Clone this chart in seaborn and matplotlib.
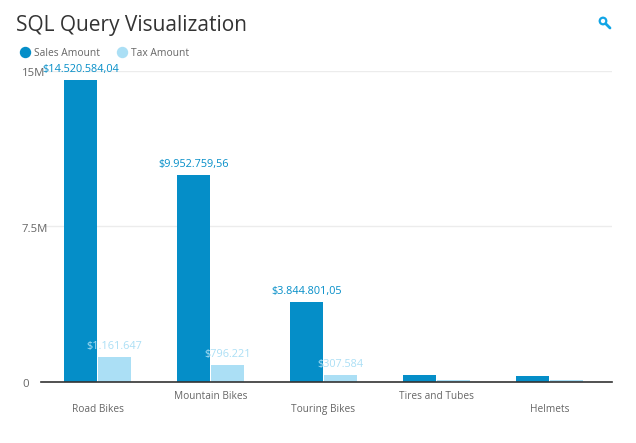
import matplotlib
matplotlib.use("Agg")
import matplotlib.pyplot as plt
from matplotlib.lines import Line2D
from matplotlib.patches import Circle
from matplotlib.transforms import ScaledTranslation
import pandas as pd
import seaborn as sns

categories = ["Road Bikes", "Mountain Bikes", "Touring Bikes", "Tires and Tubes", "Helmets"]
sales_amount = [14520584.04, 9952759.56, 3844801.05, 290000, 260000]
tax_amount = [1161647, 796221, 307584, 50000, 50000]
sales_labels = ["$14.520.584,04", "$9.952.759,56", "$3.844.801,05", "", ""]
tax_labels = ["$1.161.647", "$796.221", "$307.584", "", ""]
y_ticks = [0, 7500000, 15000000]
y_tick_labels = ["0", "7.5M", "15M"]
series_names = ["Sales Amount", "Tax Amount"]
colors = ["#058ec8", "#abdff5"]

df = pd.DataFrame({
    "category": categories * 2,
    "series": [series_names[0]] * 5 + [series_names[1]] * 5,
    "value": sales_amount + tax_amount,
})

sns.set_theme(style="white")
plt.rcParams["font.family"] = ["Open Sans", "DejaVu Sans"]

W, H = 636, 443
fig = plt.figure(figsize=(W / 100, H / 100), dpi=100, facecolor="white")
ax = fig.add_axes([41 / W, (H - 381.5) / H, (612 - 41) / W, 311 / H])

sns.barplot(data=df, x="category", y="value", hue="series", order=categories,
            hue_order=series_names, palette=colors, width=0.6, gap=0.02,
            saturation=1, legend=False, ax=ax, zorder=2, linewidth=0)

ax.set_xlim(-0.5, (612 - 41) / 113 - 0.5)
ax.set_ylim(0, 15000000)
ax.set_xlabel("")
ax.set_ylabel("")
for s in ("top", "right", "left"):
    ax.spines[s].set_visible(False)
ax.spines["bottom"].set_color("#333333")
ax.spines["bottom"].set_linewidth(1.2)
ax.yaxis.grid(True, color="#ececec", linewidth=1, zorder=0)
ax.set_axisbelow(True)
ax.set_yticks(y_ticks, y_tick_labels)
ax.tick_params(axis="y", length=0, pad=0, labelsize=8.2, labelcolor="#666666")
ax.set_xticks(range(len(categories)), categories)
ax.tick_params(axis="x", length=0, labelsize=7.3, labelcolor="#666666", pad=0)
shift_down = ScaledTranslation(0, -1.5 / 100, fig.dpi_scale_trans)
for lab in ax.get_yticklabels():
    lab.set_ha("left")
    lab.set_va("center_baseline")
    lab.set_x(-19 / 571)
    lab.set_transform(lab.get_transform() + shift_down)
for i, lab in enumerate(ax.get_xticklabels()):
    lab.set_y(-0.029 if i % 2 else -0.073)
    lab.set_va("top")

for container, labels, col in zip(ax.containers, [sales_labels, tax_labels], colors):
    for bar, text in zip(container, labels):
        if text:
            ax.annotate(text, (bar.get_x() + bar.get_width() / 2, bar.get_height()),
                        xytext=(0, 3.6), textcoords="offset points", ha="center",
                        va="bottom", color=col, fontsize=7.8, zorder=5,
                        annotation_clip=False)

fig.text(16 / W, 1 - 31 / H, "SQL Query Visualization", fontsize=15, color="#333333", va="baseline")

handles = [Line2D([], [], linestyle="", marker="o", markersize=7.2, color=c) for c in colors]
fig.legend(handles, series_names, loc="center left", bbox_to_anchor=(15 / W, 1 - 53.5 / H),
           frameon=False, ncol=2, fontsize=7.4, labelcolor="#666666", handletextpad=-0.12,
           columnspacing=1.15, borderpad=0, borderaxespad=0)

fig.add_artist(Circle((603, H - 21), 3.3, transform=None, fill=False,
                      edgecolor="#12a5e6", linewidth=1.6))
fig.add_artist(Line2D([606, 610], [H - 24, H - 28], transform=None, color="#12a5e6",
                      linewidth=2, solid_capstyle="round"))

fig.savefig("out.png", dpi=100, facecolor="white")
